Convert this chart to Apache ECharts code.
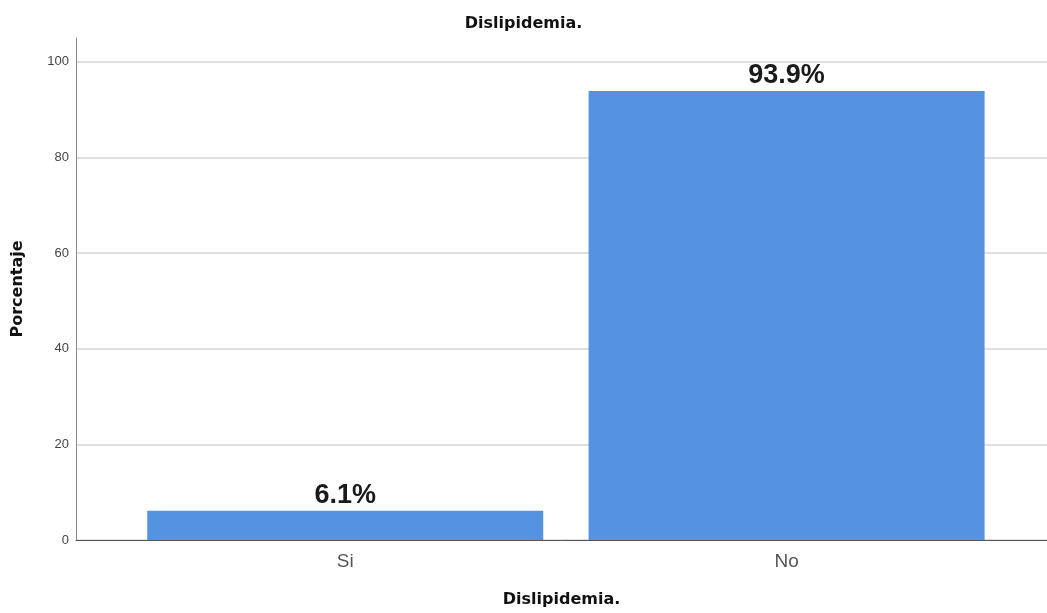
<!DOCTYPE html>
<html>
<head>
<meta charset="utf-8">
<script src="https://cdn.jsdelivr.net/npm/echarts@6/dist/echarts.min.js"></script>
<style>
  html, body { margin: 0; padding: 0; background: #fff; }
  #main { width: 1047px; height: 613px; }
</style>
</head>
<body>
<div id="main"></div>
<script>
// datos del grafico
const categorias = ['Si', 'No'];
const porcentajes = [6.1, 93.9];
const posiciones = [1, 2];
const ticksY = [0, 20, 40, 60, 80, 100];

const chart = echarts.init(document.getElementById('main'));

const fuenteTitulo = { fontFamily: 'DejaVu Sans', fontSize: 16, fontWeight: 'bold', color: '#111' };

const option = {
    backgroundColor: '#fff',
    title: {
        text: 'Dislipidemia.',
        left: 'center',
        top: 11,
        textStyle: fuenteTitulo
    },
    grid: { left: 76, right: 0, top: 38, bottom: 73 },
    xAxis: {
        type: 'value',
        min: 0.39,
        max: 2.59,
        name: 'Dislipidemia.',
        nameLocation: 'middle',
        nameGap: 52,
        nameTextStyle: fuenteTitulo,
        axisLine: { show: true, lineStyle: { color: '#555', width: 1 } },
        axisTick: { show: false },
        splitLine: { show: false },
        axisLabel: {
            customValues: posiciones,
            margin: 12,
            fontFamily: 'Arial, Liberation Sans',
            fontSize: 19,
            color: '#555',
            formatter: v => categorias[posiciones.indexOf(v)] || ''
        }
    },
    yAxis: {
        type: 'value',
        min: 0,
        max: 105,
        interval: 20,
        name: 'Porcentaje',
        nameLocation: 'middle',
        nameGap: 50,
        nameTextStyle: fuenteTitulo,
        axisLine: { show: true, lineStyle: { color: '#888', width: 1 } },
        axisTick: { show: false },
        axisLabel: {
            customValues: ticksY,
            margin: 7,
            fontFamily: 'Arial, Liberation Sans',
            fontSize: 13,
            color: '#444'
        },
        splitLine: { show: true, showMaxLine: false, lineStyle: { color: '#d6d6d6', width: 1.5 } }
    },
    series: [{
        type: 'bar',
        barWidth: 396,
        data: posiciones.map((p, i) => [p, porcentajes[i]]),
        itemStyle: { color: '#5593e1' },
        label: {
            show: true,
            position: 'top',
            distance: 2,
            fontFamily: 'Arial, Liberation Sans',
            fontSize: 27,
            fontWeight: 'bold',
            color: '#1a1a1a',
            formatter: p => porcentajes[p.dataIndex].toFixed(1) + '%'
        }
    }]
};

chart.setOption(option);
</script>
</body>
</html>
